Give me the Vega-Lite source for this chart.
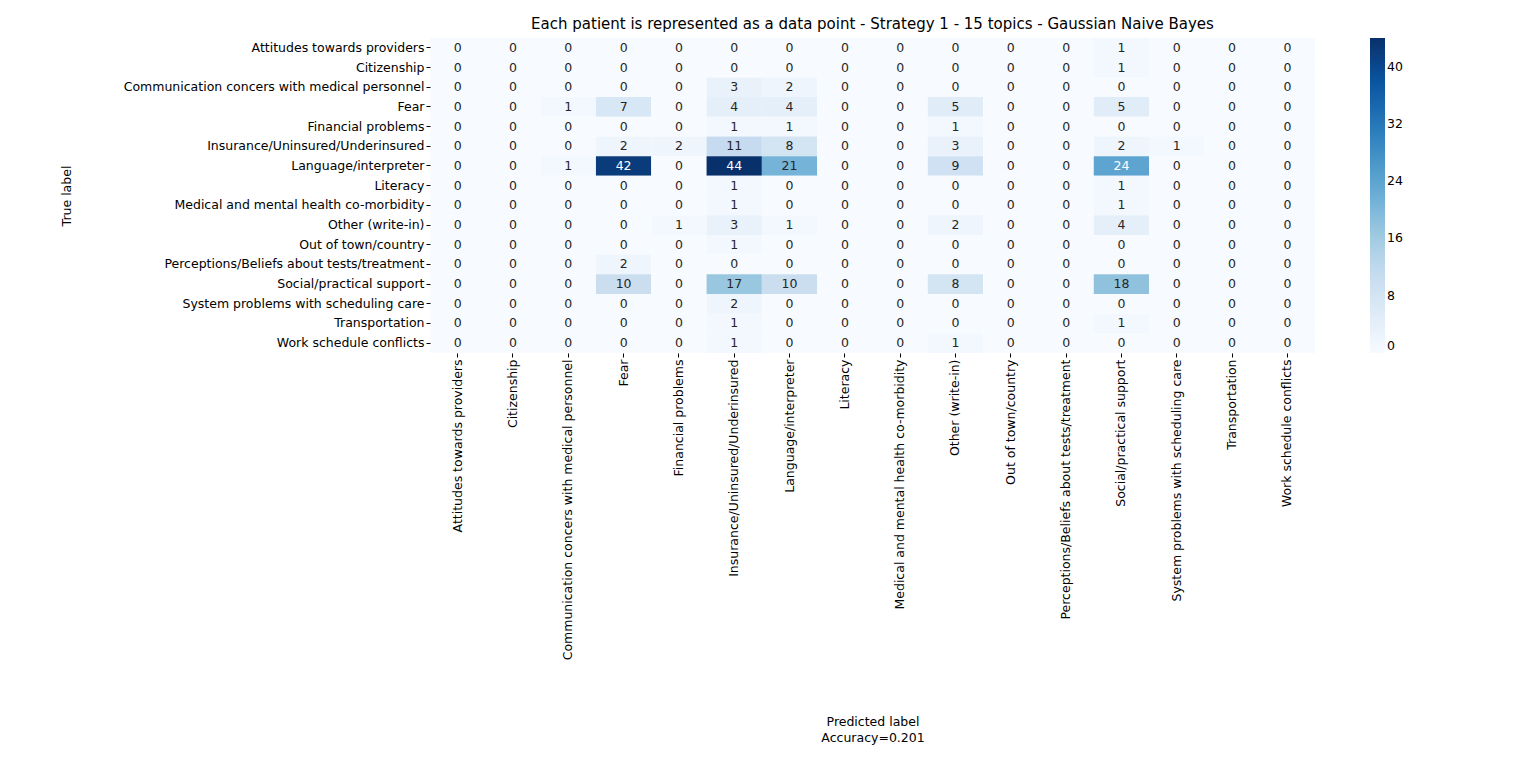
{
  "$schema": "https://vega.github.io/schema/vega-lite/v6.json",
  "autosize": {"type": "none"},
  "padding": {"left": 430, "top": 38, "right": 221, "bottom": 414},
  "width": 885,
  "height": 315,
  "config": {
    "font": "DejaVu Sans",
    "view": {"stroke": null},
    "axis": {"labelFont": "DejaVu Sans", "titleFont": "DejaVu Sans", "labelFontSize": 12.5, "titleFontSize": 12.5, "titleFontWeight": "normal", "labelColor": "#000", "titleColor": "#000", "domain": false, "tickColor": "#000", "tickSize": 4}
  },
  "title": {"text": "Each patient is represented as a data point - Strategy 1 - 15 topics - Gaussian Naive Bayes", "fontSize": 15, "fontWeight": "normal", "font": "DejaVu Sans", "offset": 6, "anchor": "middle", "color": "#000"},
  "data": {"values": [
    {"t": "Attitudes towards providers", "m": [0,0,0,0,0,0,0,0,0,0,0,0,1,0,0,0]},
    {"t": "Citizenship", "m": [0,0,0,0,0,0,0,0,0,0,0,0,1,0,0,0]},
    {"t": "Communication concers with medical personnel", "m": [0,0,0,0,0,3,2,0,0,0,0,0,0,0,0,0]},
    {"t": "Fear", "m": [0,0,1,7,0,4,4,0,0,5,0,0,5,0,0,0]},
    {"t": "Financial problems", "m": [0,0,0,0,0,1,1,0,0,1,0,0,0,0,0,0]},
    {"t": "Insurance/Uninsured/Underinsured", "m": [0,0,0,2,2,11,8,0,0,3,0,0,2,1,0,0]},
    {"t": "Language/interpreter", "m": [0,0,1,42,0,44,21,0,0,9,0,0,24,0,0,0]},
    {"t": "Literacy", "m": [0,0,0,0,0,1,0,0,0,0,0,0,1,0,0,0]},
    {"t": "Medical and mental health co-morbidity", "m": [0,0,0,0,0,1,0,0,0,0,0,0,1,0,0,0]},
    {"t": "Other (write-in)", "m": [0,0,0,0,1,3,1,0,0,2,0,0,4,0,0,0]},
    {"t": "Out of town/country", "m": [0,0,0,0,0,1,0,0,0,0,0,0,0,0,0,0]},
    {"t": "Perceptions/Beliefs about tests/treatment", "m": [0,0,0,2,0,0,0,0,0,0,0,0,0,0,0,0]},
    {"t": "Social/practical support", "m": [0,0,0,10,0,17,10,0,0,8,0,0,18,0,0,0]},
    {"t": "System problems with scheduling care", "m": [0,0,0,0,0,2,0,0,0,0,0,0,0,0,0,0]},
    {"t": "Transportation", "m": [0,0,0,0,0,1,0,0,0,0,0,0,1,0,0,0]},
    {"t": "Work schedule conflicts", "m": [0,0,0,0,0,1,0,0,0,1,0,0,0,0,0,0]}
  ]},
  "transform": [
    {"window": [{"op": "row_number", "as": "ti"}]},
    {"flatten": ["m"], "as": ["v"]},
    {"window": [{"op": "row_number", "as": "pi"}], "groupby": ["ti"]},
    {"lookup": "pi", "from": {"data": {"values": [
      {"pi": 1, "p": "Attitudes towards providers"}, {"pi": 2, "p": "Citizenship"},
      {"pi": 3, "p": "Communication concers with medical personnel"}, {"pi": 4, "p": "Fear"},
      {"pi": 5, "p": "Financial problems"}, {"pi": 6, "p": "Insurance/Uninsured/Underinsured"},
      {"pi": 7, "p": "Language/interpreter"}, {"pi": 8, "p": "Literacy"},
      {"pi": 9, "p": "Medical and mental health co-morbidity"}, {"pi": 10, "p": "Other (write-in)"},
      {"pi": 11, "p": "Out of town/country"}, {"pi": 12, "p": "Perceptions/Beliefs about tests/treatment"},
      {"pi": 13, "p": "Social/practical support"}, {"pi": 14, "p": "System problems with scheduling care"},
      {"pi": 15, "p": "Transportation"}, {"pi": 16, "p": "Work schedule conflicts"}
    ]}, "key": "pi", "fields": ["p"]}}
  ],
  "encoding": {
    "x": {"field": "p", "type": "nominal", "sort": {"field": "pi"}, "scale": {"paddingInner": 0, "paddingOuter": 0},
      "axis": {"labelAngle": -90, "labelLimit": 400, "title": ["Predicted label", "", "Accuracy=0.201"], "titleY": 362, "titleBaseline": "top", "titleLineHeight": 16}},
    "y": {"field": "t", "type": "nominal", "sort": {"field": "ti"}, "scale": {"paddingInner": 0, "paddingOuter": 0},
      "axis": {"labelLimit": 400, "title": "True label", "titleX": -357}}
  },
  "layer": [
    {"mark": {"type": "rect"},
     "encoding": {"color": {"field": "v", "type": "quantitative",
       "scale": {"domain": [0, 44], "range": ["#f7fbff","#deebf7","#c6dbef","#9ecae1","#6baed6","#4292c6","#2171b5","#08519c","#08306b"]},
       "legend": {"title": null, "gradientLength": 315, "gradientThickness": 15, "values": [0,8,16,24,32,40], "labelFontSize": 12.5, "labelColor": "#000", "offset": 55, "gradientStrokeWidth": 0}}}},
    {"mark": {"type": "text", "fontSize": 12.5},
     "encoding": {"text": {"field": "v", "type": "quantitative"},
       "color": {"condition": {"test": "datum.v > 22", "value": "white"}, "value": "#262626"}}}
  ]
}
